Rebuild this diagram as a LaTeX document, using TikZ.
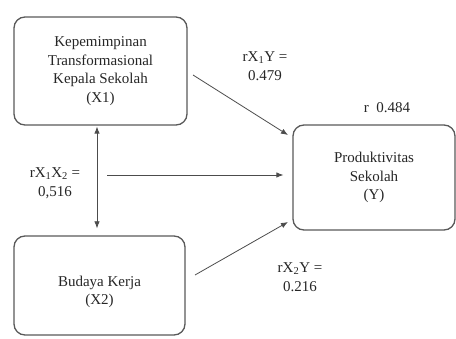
\documentclass[tikz,border=0pt]{standalone}
\usepackage{fontspec}
\setmainfont{Liberation Serif}
\usetikzlibrary{positioning}
\usetikzlibrary{calc}
\usetikzlibrary{arrows.meta}

\tikzset{
  varbox/.style={draw=black!65, line width=1.3pt, rounded corners=11pt, align=center, text=black!85, inner sep=0pt},
  path/.style={-{Latex[length=7pt,width=5.5pt]}, draw=black!70, line width=0.8pt},
  coef/.style={align=center, text=black!85}
}

\begin{document}
\begin{tikzpicture}[x=1pt, y=1pt, font=\fontsize{15}{18.5}\selectfont]
      \useasboundingbox (0,0) rectangle (456,338);
      \node[varbox, minimum width=173pt, minimum height=108pt] (x1) at (100.5,267) {Kepemimpinan\\Transformasional\\Kepala Sekolah\\(X1)};
      \node[varbox, minimum width=171pt, minimum height=99pt] (x2) at (99.5,52.5) {};
      \node[coef] (x2t) at (99.5,46) {Budaya Kerja\\(X2)};
      \node[varbox, minimum width=162pt, minimum height=105pt] (y) at (374,160.5) {Produktivitas\\Sekolah\\(Y)};
      \node[coef] (r1) at (265,272) {rX\textsubscript{1}Y =\\0.479};
      \node[coef] (r12) at (55,155) {rX\textsubscript{1}X\textsubscript{2} =\\0,516};
      \node[coef] (r2) at (300,61) {rX\textsubscript{2}Y =\\0.216};
      \node[coef] (rsq) at (387,230) {r\enspace 0.484};
      \coordinate (h) at (107,163);
      \coordinate (a1) at (193,263);
      \coordinate (b1) at (288,203);
      \coordinate (a2) at (195,63);
      \coordinate (b2) at (288,116);
      \draw [path, {Latex[length=7pt,width=5.5pt]}-{Latex[length=7pt,width=5.5pt]}, shorten <=1pt, shorten >=7pt] ([xshift=-3.5pt]x1.south) -- ([xshift=-2.5pt]x2.north);
      \draw [path, shorten >=9pt] (h) -- (h -| y.west);
      \draw [path] (a1) -- (b1);
      \draw [path] (a2) -- (b2);
\end{tikzpicture}
\end{document}
